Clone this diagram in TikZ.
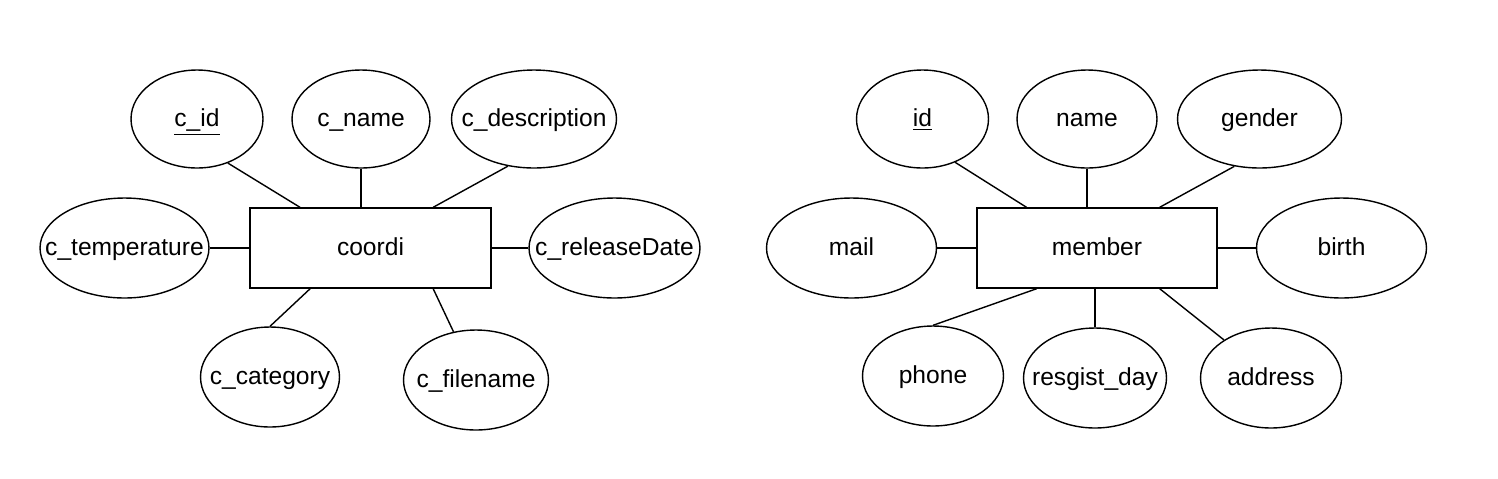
\documentclass[tikz,border=0pt]{standalone}
\usepackage{fontspec}
\setmainfont{Liberation Sans}
\usepackage{tikz}
\usetikzlibrary{shapes.geometric}

\newcommand{\atext}[1]{\makebox[0pt]{#1}}

\begin{document}
\begin{tikzpicture}[x=0.02cm,y=-0.02cm,line width=0.8pt,
    attr/.style={ellipse,draw,inner sep=0pt,minimum height=2cm,text height=1.05em,text depth=0.18em,font=\fontsize{14}{17}\selectfont},
    entity/.style={rectangle,draw,inner sep=0pt,minimum width=4.82cm,minimum height=1.6cm,text height=1.05em,text depth=0.18em,font=\fontsize{14}{17}\selectfont}]
    \useasboundingbox (0,0) rectangle (1498,478);

    \coordinate (L0) at (370.5, 248);
    \coordinate (L1) at (197, 119);
    \coordinate (L2) at (361, 119);
    \coordinate (L3) at (534, 119);
    \coordinate (L4) at (124.5, 248);
    \coordinate (L5) at (614.5, 248);
    \coordinate (L6) at (270, 377);
    \coordinate (L7) at (476, 380);

    \coordinate (R0) at (1097, 248);
    \coordinate (R1) at (922.5, 119);
    \coordinate (R2) at (1087, 119);
    \coordinate (R3) at (1259.5, 119);
    \coordinate (R4) at (851.5, 248);
    \coordinate (R5) at (1341.5, 248);
    \coordinate (R6) at (933, 376);
    \coordinate (R7) at (1095, 378);
    \coordinate (R8) at (1271, 378);

%left entity
    \node[entity] (coordi) at (L0) {coordi};
    \node[attr, minimum width=2.64cm, minimum height=1.96cm] (cid) at (L1) {\atext{\underline{c\_id}}};
    \node[attr, minimum width=2.76cm, minimum height=1.96cm] (cname) at (L2) {\atext{c\_name}};
    \node[attr, minimum width=3.30cm, minimum height=1.96cm] (cdesc) at (L3) {\atext{c\_description}};
    \node[attr, minimum width=3.38cm] (ctemp) at (L4) {\atext{c\_temperature}};
    \node[attr, minimum width=3.42cm] (crel) at (L5) {\atext{c\_releaseDate}};
    \node[attr, minimum width=2.78cm] (ccat) at (L6) {\atext{c\_category}};
    \node[attr, minimum width=2.90cm] (cfile) at (L7) {\atext{c\_filename}};

    \draw (cid.-55) -- (coordi.150);
    \draw (cname.south) -- (cname.south |- coordi.north);
    \draw (cdesc.-119) -- (coordi.33);
    \draw (ctemp.east) -- (coordi.west);
    \draw (crel.west) -- (coordi.east);
    \draw (ccat.north) -- (coordi.-146.5);
    \draw (cfile.115) -- (coordi.-33);

%right entity
    \node[entity, minimum width=4.80cm] (member) at (R0) {member};
    \node[attr, minimum width=2.64cm, minimum height=1.96cm] (id) at (R1) {\atext{\underline{id}}};
    \node[attr, minimum width=2.80cm, minimum height=1.96cm] (name) at (R2) {\atext{name}};
    \node[attr, minimum width=3.28cm, minimum height=1.96cm] (gender) at (R3) {\atext{gender}};
    \node[attr, minimum width=3.40cm] (mail) at (R4) {\atext{mail}};
    \node[attr, minimum width=3.40cm] (birth) at (R5) {\atext{birth}};
    \node[attr, minimum width=2.82cm] (phone) at (R6) {\atext{phone}};
    \node[attr, minimum width=2.86cm] (regday) at (R7) {\atext{resgist\_day}};
    \node[attr, minimum width=2.82cm] (address) at (R8) {\atext{address}};

    \draw (id.-53) -- (member.150);
    \draw (name.south) -- (name.south |- member.north);
    \draw (gender.-118) -- (member.33.7);
    \draw (mail.east) -- (member.west);
    \draw (birth.west) -- (member.east);
    \draw (phone.north) -- (member.-146.3);
    \draw (regday.north) -- (regday.north |- member.south);
    \draw (address.141.7) -- (member.-33);

\end{tikzpicture}
\end{document}
